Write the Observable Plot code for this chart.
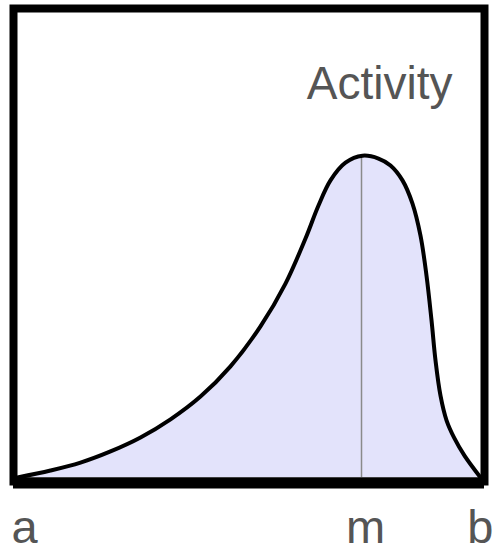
<!DOCTYPE html>
<html>
<head>
<meta charset="utf-8">
<script src="https://cdn.jsdelivr.net/npm/d3@7"></script>
<script src="https://cdn.jsdelivr.net/npm/@observablehq/plot@0.6"></script>
<style>
  html, body { margin: 0; padding: 0; background: #fff; }
  #chart svg { display: block; }
</style>
</head>
<body>
<div id="chart"></div>
<script>
// Activity curve: position between a (0) and b (100), relative activity (0..1)
const curveX = [0, 7.13, 13.61, 20.09, 26.57, 33.05, 39.52, 46.0, 52.48, 57.88, 62.20, 65.01, 67.60, 70.84, 74.51, 77.97, 80.56, 83.15, 85.31, 87.04, 88.34, 89.42, 90.28, 91.36, 92.66, 94.38, 96.54, 100];
const curveY = [0, 0.015, 0.032, 0.056, 0.086, 0.125, 0.174, 0.239, 0.325, 0.417, 0.514, 0.585, 0.639, 0.677, 0.692, 0.686, 0.671, 0.639, 0.589, 0.520, 0.434, 0.338, 0.252, 0.176, 0.123, 0.084, 0.047, 0];
const modeX = 74.3;
const peakY = 0.692;
const tickLabels = ["a", "m", "b"];
const tickPositions = [0, modeX, 100];
const tickAnchor = ["middle", "middle", "end"];
const tickShift = [7, 4, 13];
const titleText = "Activity";

const curve = curveX.map((x, i) => ({x, y: curveY[i]}));
const ticks = tickLabels.map((label, i) => ({label, x: tickPositions[i], dx: tickShift[i], anchor: tickAnchor[i]}));

const font = "Liberation Sans, Arial, sans-serif";

const plot = Plot.plot({
  width: 493,
  height: 551,
  marginLeft: 17,
  marginRight: 13,
  marginTop: 12,
  marginBottom: 74,
  x: {domain: [0, 100], axis: null},
  y: {domain: [0, 1], axis: null},
  style: {fontFamily: font, background: "white"},
  marks: [
    Plot.areaY(curve, {x: "x", y: "y", fill: "#e3e3fb", curve: "catmull-rom"}),
    Plot.ruleX([modeX], {y1: 0, y2: peakY, stroke: "#8a8a8a", strokeWidth: 1.5}),
    Plot.lineY(curve, {x: "x", y: "y", stroke: "black", strokeWidth: 4, curve: "catmull-rom"}),
    Plot.frame({stroke: "black", strokeWidth: 8, inset: -4}),
    Plot.ruleY([0], {stroke: "black", strokeWidth: 11, dy: 5.5, insetLeft: -4, insetRight: -4}),
    ...ticks.map(t => Plot.text([t], {
      x: "x", y: () => 0, text: "label", dx: t.dx, dy: 65,
      lineAnchor: "bottom", textAnchor: t.anchor,
      fontSize: 47, fill: "#555"
    })),
    Plot.text([titleText], {
      frameAnchor: "top-right", text: d => d, dx: -28, dy: 86,
      lineAnchor: "bottom", textAnchor: "end",
      fontSize: 46, fill: "#555"
    })
  ]
});
document.getElementById("chart").appendChild(plot);
</script>
</body>
</html>
